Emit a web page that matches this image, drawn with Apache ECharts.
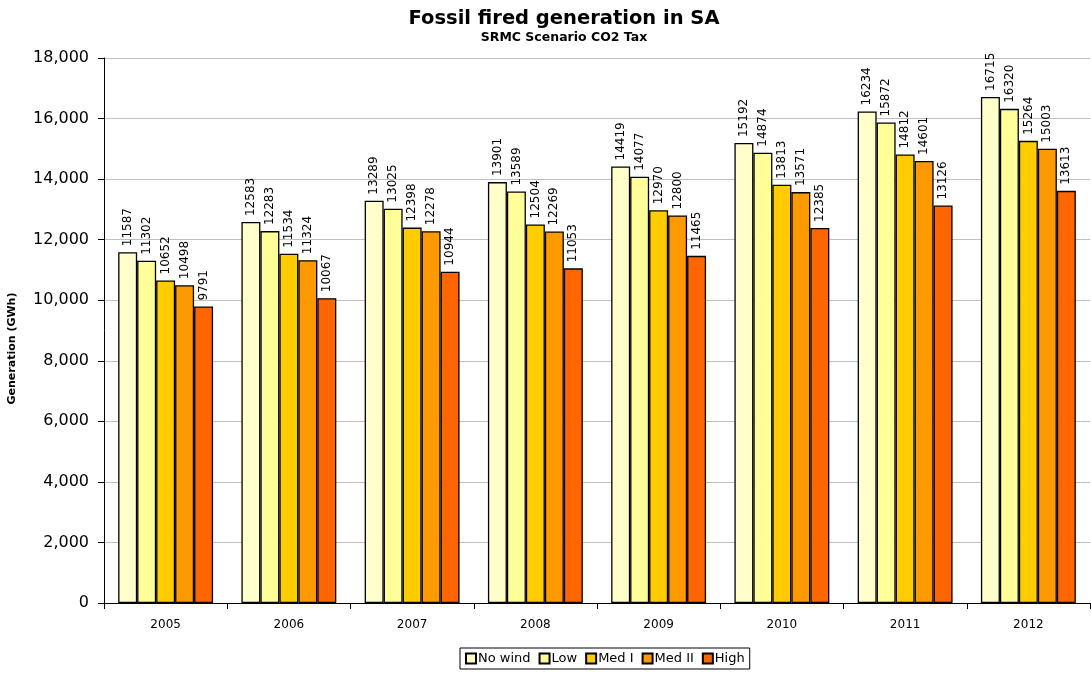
<!DOCTYPE html>
<html>
<head>
<meta charset="utf-8">
<script src="https://cdn.jsdelivr.net/npm/echarts@6/dist/echarts.min.js"></script>
<style>
html,body{margin:0;padding:0;background:#fff;}
#chart{width:1091px;height:673px;}
</style>
</head>
<body>
<div id="chart"></div>
<script>
// Fossil fired generation in SA (GWh), SRMC scenario with CO2 tax
const years = ['2005', '2006', '2007', '2008', '2009', '2010', '2011', '2012'];
const noWind = [11587, 12583, 13289, 13901, 14419, 15192, 16234, 16715];
const low    = [11302, 12283, 13025, 13589, 14077, 14874, 15872, 16320];
const medI   = [10652, 11534, 12398, 12504, 12970, 13813, 14812, 15264];
const medII  = [10498, 11324, 12278, 12269, 12800, 13571, 14601, 15003];
const high   = [9791, 10067, 10944, 11053, 11465, 12385, 13126, 13613];

const seriesNames = ['No wind', 'Low', 'Med I', 'Med II', 'High'];
const seriesData = [noWind, low, medI, medII, high];
const seriesColors = ['#FFFFCC', '#FFFF99', '#FFCC00', '#FF9900', '#FF6600'];

const FONT = 'DejaVu Sans';

const chart = echarts.init(document.getElementById('chart'));
chart.setOption({
  animation: false,
  backgroundColor: '#fff',
  textStyle: { fontFamily: FONT },
  title: {
    text: 'Fossil fired generation in SA',
    subtext: 'SRMC Scenario CO2 Tax',
    left: 559, textAlign: 'center', top: 4, itemGap: 2,
    textStyle: { fontFamily: FONT, fontSize: 19.5, fontWeight: 'bold', color: '#000' },
    subtextStyle: { fontFamily: FONT, fontSize: 12.5, fontWeight: 'bold', color: '#000' }
  },
  legend: {
    bottom: 4, left: 460,
    itemWidth: 10, itemHeight: 10, itemGap: 8,
    icon: 'rect',
    borderColor: '#000', borderWidth: 1, padding: [4, 5, 4, 5],
    textStyle: { fontFamily: FONT, fontSize: 13, color: '#000', padding: [0, 0, 0, -3] },
    data: seriesNames
  },
  grid: { left: 104, right: 1, top: 58, bottom: 70, outerBoundsMode: 'none', containLabel: false },
  xAxis: {
    type: 'category', data: years,
    axisLine: { lineStyle: { color: '#000', width: 1 } },
    axisTick: { show: true, length: 6, lineStyle: { color: '#000' } },
    axisLabel: { fontFamily: FONT, fontSize: 12, color: '#000', margin: 16 }
  },
  yAxis: {
    type: 'value', min: 0, max: 18000, interval: 2000,
    name: 'Generation (GWh)', nameLocation: 'middle', nameGap: 86, nameRotate: 90,
    nameTextStyle: { fontFamily: FONT, fontSize: 11, fontWeight: 'bold', color: '#000', padding: [0, 36, 0, 0] },
    axisLine: { show: true, lineStyle: { color: '#000', width: 1 } },
    axisTick: { show: true, inside: false, length: 6, lineStyle: { color: '#000' } },
    axisLabel: {
      fontFamily: FONT, fontSize: 16, color: '#000', margin: 15,
      formatter: v => v.toLocaleString('en-US')
    },
    splitLine: { show: true, lineStyle: { color: '#BFBFBF', width: 1 } }
  },
  series: seriesNames.map((name, i) => ({
    name, type: 'bar',
    data: seriesData[i],
    barGap: '0%', barCategoryGap: '23%',
    itemStyle: { color: seriesColors[i], borderColor: '#000', borderWidth: 1.3 },
    label: {
      show: true, position: 'top', rotate: 90, align: 'left', verticalAlign: 'middle',
      distance: 6, fontFamily: FONT, fontSize: 12, color: '#000'
    }
  }))
});
</script>
</body>
</html>
